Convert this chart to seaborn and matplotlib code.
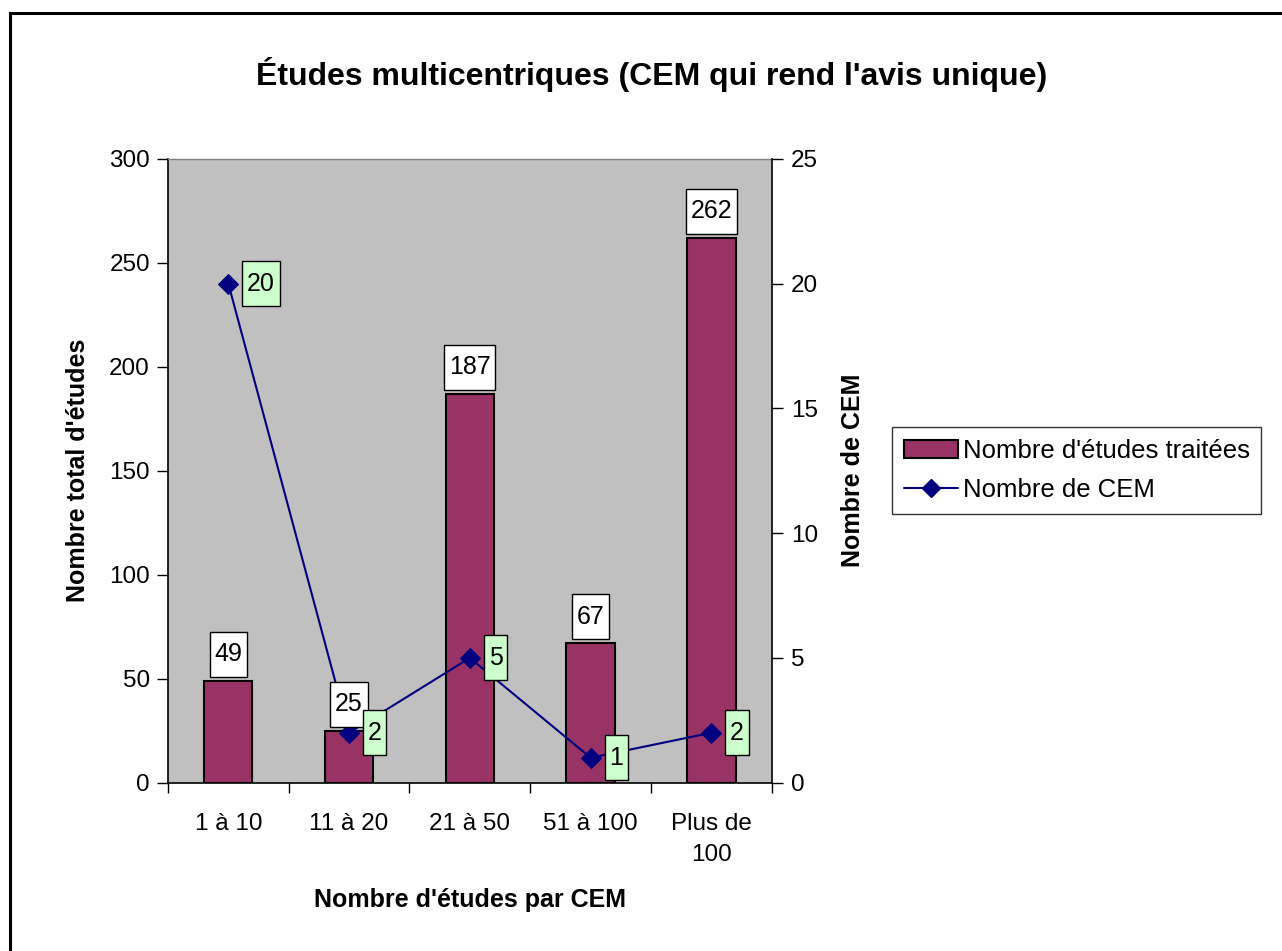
import numpy as np
import pandas as pd
import matplotlib
matplotlib.use("Agg")
import matplotlib.pyplot as plt
from matplotlib.path import Path
from matplotlib.patches import Rectangle, Patch
from matplotlib.lines import Line2D
import seaborn as sns

# Data
categories = ["1 à 10", "11 à 20", "21 à 50", "51 à 100", "Plus de\n100"]
etudes_traitees = [49, 25, 187, 67, 262]
nombre_cem = [20, 2, 5, 1, 2]

df = pd.DataFrame({"cat": categories, "etudes": etudes_traitees, "cem": nombre_cem})

sns.set_theme(style="white")
plt.rcParams["font.family"] = ["Liberation Sans", "DejaVu Sans"]
plt.rcParams.update({
    "text.color": "black",
    "axes.labelcolor": "black",
    "xtick.color": "black",
    "ytick.color": "black",
})

BAR = "#993366"
LINE = "#000080"
BG = "#C0C0C0"
GREEN = "#CCFFCC"

fig = plt.figure(figsize=(12.82, 9.51), dpi=100)
ax = fig.add_axes([0.131, 0.177, 0.471, 0.656])
ax.set_facecolor(BG)

sns.barplot(data=df, x="cat", y="etudes", color=BAR, width=0.4,
            saturation=1, edgecolor="black", linewidth=1.5, ax=ax, zorder=2)

ax2 = ax.twinx()
sns.lineplot(data=df, x="cat", y="cem", color=LINE, marker="D", markersize=10,
             markeredgecolor=LINE, linewidth=1.5, ax=ax2, sort=False, zorder=3)

ax.set_ylim(0, 300)
ax.set_yticks(np.arange(0, 301, 50))
ax2.set_ylim(0, 25)
ax2.set_yticks(np.arange(0, 26, 5))
ax.set_xlim(-0.5, len(categories) - 0.5)

# Category labels centred, tick marks at category boundaries
ax.set_xticks(np.arange(len(categories)))
ax.set_xticklabels(categories, fontsize=17.5, linespacing=1.5)
ax.set_xticks(np.arange(-0.5, len(categories)), minor=True)
ax.tick_params(axis="x", which="major", length=0, pad=22)
ax.tick_params(axis="x", which="minor", length=7, width=1, color="black",
               direction="out", bottom=True)
ax.tick_params(axis="y", length=8, width=1, color="black", direction="out",
               left=True, labelsize=17.5, pad=5)
ax2.tick_params(axis="y", length=8, width=1, color="black", direction="out",
                right=True, labelsize=17.5, pad=6)

for a in (ax, ax2):
    for s in a.spines.values():
        s.set_visible(False)
ax.spines["left"].set_visible(True)
ax.spines["bottom"].set_visible(True)
ax2.spines["right"].set_visible(True)
for s in (ax.spines["left"], ax.spines["bottom"], ax2.spines["right"]):
    s.set_color("black")
    s.set_linewidth(1.2)
ax.spines["top"].set_visible(True)
ax.spines["top"].set_color("#808080")
ax.spines["top"].set_linewidth(1)

ax.set_xlabel("Nombre d'études par CEM", fontsize=18, fontweight="bold", labelpad=16)
ax.set_ylabel("Nombre total d'études", fontsize=18, fontweight="bold", labelpad=14)
ax2.set_ylabel("Nombre de CEM", fontsize=18, fontweight="bold", labelpad=16,
               rotation=90)
ax2.yaxis.set_label_position("right")

fig.suptitle("Études multicentriques (CEM qui rend l'avis unique)",
             fontsize=23, fontweight="bold", x=0.508, y=0.94)


def label_box(pad_x, pad_y):
    def box(x0, y0, width, height, mutation_size):
        px = pad_x * mutation_size
        py = pad_y * mutation_size
        x0, y0 = x0 - px, y0 - py
        x1, y1 = x0 + width + 2 * px, y0 + height + 2 * py
        return Path([(x0, y0), (x1, y0), (x1, y1), (x0, y1), (x0, y0)],
                    closed=True)
    return box


box_style = label_box(0.19, 0.42)

# Bar value labels sit above the line (drawn on the twin axes, in bar coordinates)
for i, v in enumerate(etudes_traitees):
    ax2.annotate(str(v), xy=(i, v), xycoords=ax.transData,
                 xytext=(0, 10.5), textcoords="offset points",
                 ha="center", va="bottom", fontsize=18, zorder=5,
                 bbox=dict(boxstyle=box_style, facecolor="white",
                           edgecolor="black", linewidth=1))

for i, v in enumerate(nombre_cem):
    ax2.annotate(str(v), xy=(i, v), xytext=(13.5, 0), textcoords="offset points",
                 ha="left", va="center", fontsize=18, zorder=6,
                 bbox=dict(boxstyle=box_style, facecolor=GREEN,
                           edgecolor="black", linewidth=1))

handles = [
    Patch(facecolor=BAR, edgecolor="black", linewidth=1.5),
    Line2D([0], [0], color=LINE, marker="D", markersize=9, linewidth=1.5),
]
leg = fig.legend(handles, ["Nombre d'études traitées", "Nombre de CEM"],
                 loc="center left", bbox_to_anchor=(0.696, 0.505),
                 fontsize=18.5, frameon=True, fancybox=False, borderpad=0.45,
                 handlelength=2.1, handletextpad=0.2, labelspacing=0.6,
                 borderaxespad=0)
leg.get_frame().set_edgecolor("black")
leg.get_frame().set_linewidth(1)

# Outer frame (left and top edges visible)
fig.add_artist(Rectangle((10 / 1282, -0.1), 1.2, 0.1 + 1 - 13 / 951,
                         transform=fig.transFigure, fill=False,
                         edgecolor="black", linewidth=2.2, clip_on=False))

fig.savefig("out.png", dpi=100, facecolor="white")
